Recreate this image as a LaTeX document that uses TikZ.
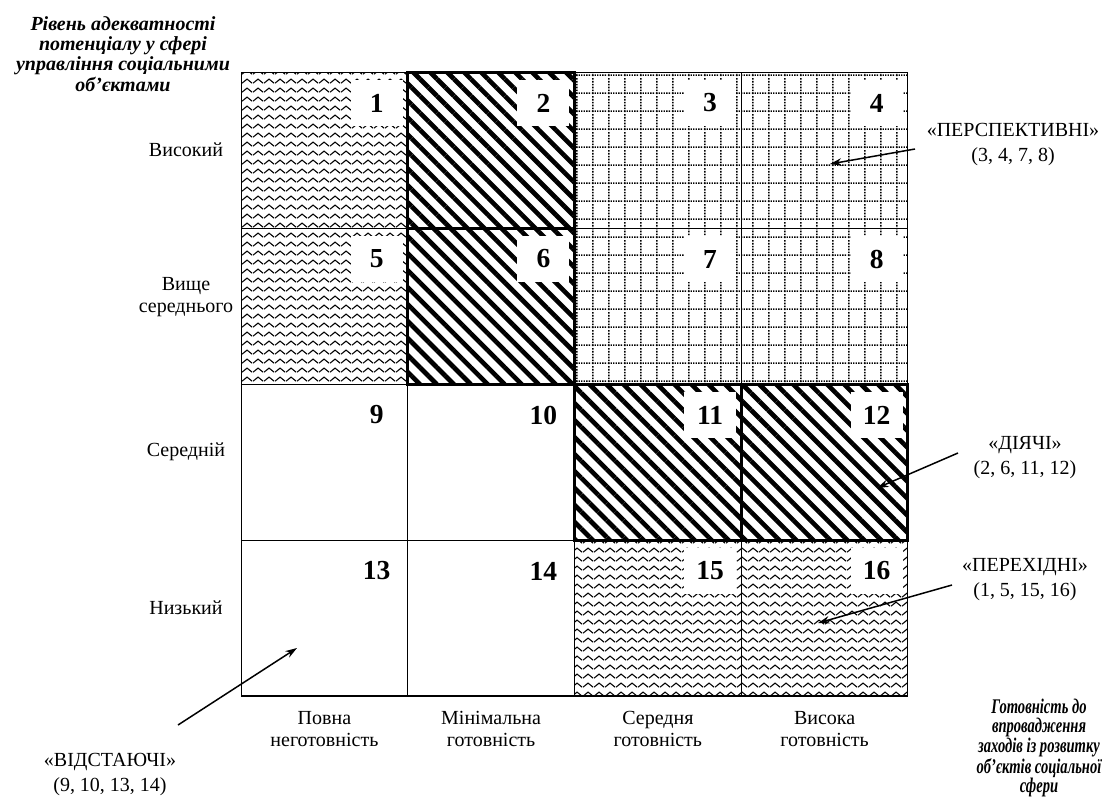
\documentclass[tikz,border=0pt]{standalone}
\usepackage{fontspec}
\setmainfont{Liberation Serif}
\newfontfamily\narrowfont[FakeStretch=0.7]{Liberation Serif}
\usetikzlibrary{arrows.meta, positioning, patterns, patterns.meta}
\pgfdeclarepatternformonly{zigzag}{\pgfpointorigin}{\pgfpoint{6.6pt}{5.4pt}}{\pgfpoint{6.6pt}{5.4pt}}{
  \pgfsetlinewidth{0.7pt}
  \pgfpathmoveto{\pgfpoint{0pt}{1.2pt}}
  \pgfpathlineto{\pgfpoint{3.3pt}{3.9pt}}
  \pgfpathlineto{\pgfpoint{6.6pt}{1.2pt}}
  \pgfusepath{stroke}
}
\pgfdeclarepatternformonly{dotgrid}{\pgfpointorigin}{\pgfpoint{9.6pt}{10.8pt}}{\pgfpoint{9.6pt}{10.8pt}}{
  \pgfsetlinewidth{0.9pt}
  \pgfsetdash{{0.9pt}{0.7pt}}{0pt}
  \pgfpathmoveto{\pgfpoint{0pt}{0.6pt}}
  \pgfpathlineto{\pgfpoint{9.6pt}{0.6pt}}
  \pgfusepath{stroke}
  \pgfsetdash{{1pt}{0.8pt}}{0pt}
  \pgfpathmoveto{\pgfpoint{0.6pt}{0pt}}
  \pgfpathlineto{\pgfpoint{0.6pt}{10.8pt}}
  \pgfusepath{stroke}
}
\tikzstyle{cell} = [rectangle, draw, line width=0.6pt, minimum width=100pt, minimum height=93.6pt, inner sep=0pt, outer sep=0pt]
\tikzstyle{wavecell} = [cell, pattern=zigzag]
\tikzstyle{dotcell} = [cell, pattern=dotgrid]
\tikzstyle{hatchcell} = [cell, line width=1.8pt, pattern={Lines[angle=-45, distance=7.2pt, line width=2.8pt]}]
\tikzstyle{numbox} = [fill=white, minimum width=31.2pt, minimum height=27.6pt, inner sep=0pt, outer sep=0pt, font=\fontsize{16.5}{17}\selectfont\bfseries]
\tikzstyle{axislabel} = [align=center, font=\fontsize{12}{13}\selectfont]
\tikzstyle{grouplabel} = [align=center, font=\fontsize{12}{15}\selectfont]
\tikzstyle{titlelabel} = [align=center, font=\fontsize{12}{12.2}\selectfont\bfseries\itshape]
\tikzstyle{arrow} = [line width=0.9pt, -{Stealth[length=7pt, width=4.5pt]}]

\begin{document}
\begin{tikzpicture}[x=0.6pt, y=-0.6pt]
    \useasboundingbox (0,0) rectangle (1104,796);
    % Cells
    \node (c1) [wavecell] at (324.4,150) {};
    \node (c2) [hatchcell, right=0pt of c1] {};
    \node (c3) [dotcell, right=0pt of c2] {};
    \node (c4) [dotcell, right=0pt of c3] {};
    \node (c5) [wavecell, below=0pt of c1] {};
    \node (c6) [hatchcell, right=0pt of c5] {};
    \node (c7) [dotcell, right=0pt of c6] {};
    \node (c8) [dotcell, right=0pt of c7] {};
    \node (c9) [cell, below=0pt of c5] {};
    \node (c10) [cell, right=0pt of c9] {};
    \node (c11) [hatchcell, right=0pt of c10] {};
    \node (c12) [hatchcell, right=0pt of c11] {};
    \node (c13) [cell, below=0pt of c9] {};
    \node (c14) [cell, right=0pt of c13] {};
    \node (c15) [wavecell, right=0pt of c14] {};
    \node (c16) [wavecell, right=0pt of c15] {};
    \draw [line width=1.8pt] (c2.north west) rectangle (c6.south east);
    \draw [line width=1.8pt] (c11.north west) rectangle (c12.south east);
    \draw [line width=1.2pt] (c13.south west) -- (c16.south east);
    
    % Numbers
    \node (n1) [numbox, below left=4.8pt and 3pt of c1.north east] {1};
    \node (n2) [numbox, below left=4.8pt and 3pt of c2.north east] {2};
    \node (n3) [numbox, below left=4.8pt and 3pt of c3.north east] {3};
    \node (n4) [numbox, below left=4.8pt and 3pt of c4.north east] {4};
    \node (n5) [numbox, below left=4.8pt and 3pt of c5.north east] {5};
    \node (n6) [numbox, below left=4.8pt and 3pt of c6.north east] {6};
    \node (n7) [numbox, below left=4.8pt and 3pt of c7.north east] {7};
    \node (n8) [numbox, below left=4.8pt and 3pt of c8.north east] {8};
    \node (n9) [numbox, below left=4.8pt and 3pt of c9.north east] {9};
    \node (n10) [numbox, below left=4.8pt and 3pt of c10.north east] {10};
    \node (n11) [numbox, below left=4.8pt and 3pt of c11.north east] {11};
    \node (n12) [numbox, below left=4.8pt and 3pt of c12.north east] {12};
    \node (n13) [numbox, below left=4.8pt and 3pt of c13.north east] {13};
    \node (n14) [numbox, below left=4.8pt and 3pt of c14.north east] {14};
    \node (n15) [numbox, below left=4.8pt and 3pt of c15.north east] {15};
    \node (n16) [numbox, below left=4.8pt and 3pt of c16.north east] {16};
    
    % Axis labels
    \node (ytitle) [titlelabel] at (123,54) {Рівень адекватності\\потенціалу у сфері\\управління соціальними\\об’єктами};
    \node (high) [axislabel] at (186,150) {Високий};
    \node (abovemid) [axislabel] at (186,297) {Вище\\середнього};
    \node (mid) [axislabel] at (186,452) {Середній};
    \node (low) [axislabel] at (186,608) {Низький};
    \node (none) [axislabel] at (324.4,729) {Повна\\неготовність};
    \node (minimal) [axislabel] at (491.1,729) {Мінімальна\\готовність};
    \node (medium) [axislabel] at (657.9,729) {Середня\\готовність};
    \node (full) [axislabel] at (824.6,729) {Висока\\готовність};
    \node (xtitle) [titlelabel, font=\narrowfont\fontsize{12.5}{11.2}\selectfont\bfseries\itshape] at (1039,748) {Готовність до\\впровадження\\заходів із розвитку\\об’єктів соціальної\\сфери};
    
    % Groups
    \node (persp) [grouplabel] at (1013,145) {«ПЕРСПЕКТИВНІ»\\(3, 4, 7, 8)};
    \node (active) [grouplabel] at (1025,458) {«ДІЯЧІ»\\(2, 6, 11, 12)};
    \node (trans) [grouplabel] at (1025,580) {«ПЕРЕХІДНІ»\\(1, 5, 15, 16)};
    \node (lag) [grouplabel] at (110,774) {«ВІДСТАЮЧІ»\\(9, 10, 13, 14)};
    \coordinate (persp-from) at (915,149);
    \coordinate (persp-to) at (830,164);
    \coordinate (active-from) at (958,453);
    \coordinate (active-to) at (877,488);
    \coordinate (trans-from) at (952,585);
    \coordinate (trans-to) at (818,623);
    \coordinate (lag-from) at (178,725);
    \coordinate (lag-to) at (297,648);
    \draw [arrow] (persp-from) -- (persp-to);
    \draw [arrow] (active-from) -- (active-to);
    \draw [arrow] (trans-from) -- (trans-to);
    \draw [arrow] (lag-from) -- (lag-to);
    
\end{tikzpicture}
\end{document}
